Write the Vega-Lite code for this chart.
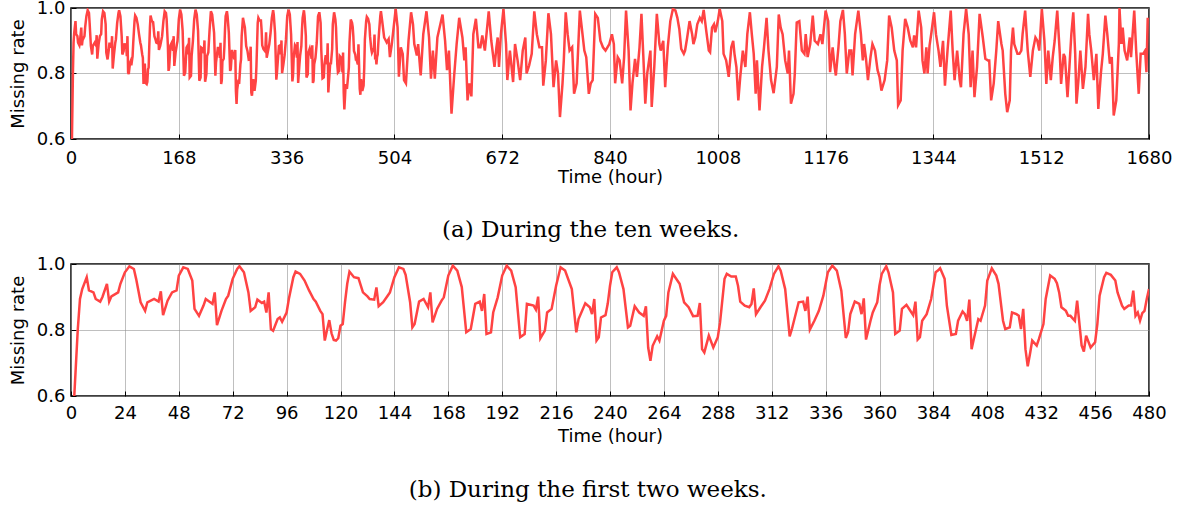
{
 "$schema": "https://vega.github.io/schema/vega-lite/v6.json",
 "padding": {"left": 8, "top": -2, "right": 5, "bottom": 5},
 "background": "white",
 "datasets": {"series": [
{"t":0,"v":0.40},{"t":1,"v":0.54},{"t":2,"v":0.67},{"t":3,"v":0.80},{"t":4,"v":0.894},{"t":5,"v":0.924},{"t":7,"v":0.96},{"t":8,"v":0.92},{"t":10,"v":0.914},{"t":11,"v":0.894},{"t":13,"v":0.886},{"t":14,"v":0.90},{"t":16,"v":0.94},{"t":17,"v":0.886},{"t":18,"v":0.902},{"t":21,"v":0.914},{"t":22,"v":0.94},{"t":24,"v":0.975},{"t":26,"v":0.993},{"t":28,"v":0.985},{"t":29,"v":0.955},{"t":31,"v":0.884},{"t":33,"v":0.858},{"t":34,"v":0.884},{"t":37,"v":0.894},{"t":39,"v":0.886},{"t":40,"v":0.917},{"t":41,"v":0.845},{"t":43,"v":0.889},{"t":45,"v":0.914},{"t":47,"v":0.92},{"t":48,"v":0.965},{"t":50,"v":0.99},{"t":52,"v":0.985},{"t":54,"v":0.95},{"t":55,"v":0.864},{"t":57,"v":0.843},{"t":59,"v":0.874},{"t":60,"v":0.894},{"t":62,"v":0.884},{"t":63,"v":0.879},{"t":64,"v":0.914},{"t":65,"v":0.815},{"t":67,"v":0.858},{"t":69,"v":0.894},{"t":70,"v":0.904},{"t":72,"v":0.955},{"t":74,"v":0.985},{"t":75,"v":0.993},{"t":77,"v":0.975},{"t":79,"v":0.914},{"t":80,"v":0.858},{"t":82,"v":0.869},{"t":83,"v":0.892},{"t":85,"v":0.882},{"t":86,"v":0.886},{"t":87,"v":0.853},{"t":88,"v":0.914},{"t":89,"v":0.803},{"t":90,"v":0.798},{"t":92,"v":0.833},{"t":93,"v":0.838},{"t":94,"v":0.825},{"t":96,"v":0.853},{"t":97,"v":0.894},{"t":99,"v":0.96},{"t":100,"v":0.977},{"t":102,"v":0.97},{"t":104,"v":0.95},{"t":106,"v":0.92},{"t":108,"v":0.894},{"t":109,"v":0.886},{"t":111,"v":0.858},{"t":112,"v":0.848},{"t":113,"v":0.768},{"t":114,"v":0.80},{"t":115,"v":0.83},{"t":116,"v":0.79},{"t":117,"v":0.77},{"t":118,"v":0.768},{"t":119,"v":0.775},{"t":120,"v":0.813},{"t":121,"v":0.818},{"t":122,"v":0.884},{"t":123,"v":0.94},{"t":124,"v":0.977},{"t":126,"v":0.96},{"t":128,"v":0.957},{"t":130,"v":0.914},{"t":132,"v":0.902},{"t":133,"v":0.894},{"t":135,"v":0.892},{"t":136,"v":0.929},{"t":137,"v":0.872},{"t":139,"v":0.884},{"t":141,"v":0.904},{"t":142,"v":0.914},{"t":144,"v":0.96},{"t":146,"v":0.99},{"t":148,"v":0.985},{"t":149,"v":0.967},{"t":151,"v":0.884},{"t":152,"v":0.808},{"t":153,"v":0.818},{"t":155,"v":0.886},{"t":157,"v":0.894},{"t":159,"v":0.869},{"t":160,"v":0.914},{"t":161,"v":0.823},{"t":163,"v":0.864},{"t":165,"v":0.889},{"t":166,"v":0.899},{"t":168,"v":0.965},{"t":170,"v":0.995},{"t":172,"v":0.98},{"t":174,"v":0.93},{"t":176,"v":0.793},{"t":178,"v":0.803},{"t":180,"v":0.879},{"t":182,"v":0.886},{"t":183,"v":0.858},{"t":184,"v":0.909},{"t":185,"v":0.788},{"t":187,"v":0.793},{"t":188,"v":0.853},{"t":190,"v":0.899},{"t":192,"v":0.965},{"t":194,"v":0.995},{"t":196,"v":0.98},{"t":198,"v":0.93},{"t":200,"v":0.778},{"t":202,"v":0.788},{"t":203,"v":0.879},{"t":206,"v":0.874},{"t":207,"v":0.862},{"t":208,"v":0.901},{"t":209,"v":0.775},{"t":211,"v":0.798},{"t":212,"v":0.853},{"t":214,"v":0.864},{"t":216,"v":0.934},{"t":218,"v":0.99},{"t":220,"v":0.98},{"t":223,"v":0.924},{"t":225,"v":0.793},{"t":226,"v":0.833},{"t":229,"v":0.881},{"t":231,"v":0.869},{"t":232,"v":0.848},{"t":233,"v":0.894},{"t":234,"v":0.768},{"t":235,"v":0.778},{"t":236,"v":0.838},{"t":238,"v":0.845},{"t":239,"v":0.88},{"t":240,"v":0.934},{"t":241,"v":0.975},{"t":243,"v":0.99},{"t":244,"v":0.975},{"t":246,"v":0.924},{"t":248,"v":0.808},{"t":249,"v":0.813},{"t":251,"v":0.872},{"t":253,"v":0.853},{"t":255,"v":0.843},{"t":256,"v":0.872},{"t":257,"v":0.747},{"t":258,"v":0.707},{"t":259,"v":0.752},{"t":261,"v":0.781},{"t":262,"v":0.768},{"t":264,"v":0.828},{"t":265,"v":0.843},{"t":266,"v":0.914},{"t":268,"v":0.97},{"t":270,"v":0.95},{"t":271,"v":0.94},{"t":273,"v":0.884},{"t":275,"v":0.869},{"t":277,"v":0.842},{"t":279,"v":0.843},{"t":280,"v":0.882},{"t":281,"v":0.742},{"t":282,"v":0.732},{"t":284,"v":0.783},{"t":286,"v":0.747},{"t":288,"v":0.778},{"t":289,"v":0.823},{"t":291,"v":0.955},{"t":292,"v":0.97},{"t":294,"v":0.962},{"t":296,"v":0.962},{"t":297,"v":0.934},{"t":298,"v":0.886},{"t":300,"v":0.874},{"t":302,"v":0.869},{"t":303,"v":0.879},{"t":304,"v":0.926},{"t":305,"v":0.848},{"t":307,"v":0.869},{"t":309,"v":0.889},{"t":311,"v":0.924},{"t":313,"v":0.97},{"t":315,"v":0.993},{"t":316,"v":0.98},{"t":318,"v":0.924},{"t":320,"v":0.781},{"t":321,"v":0.803},{"t":324,"v":0.884},{"t":326,"v":0.886},{"t":327,"v":0.858},{"t":328,"v":0.901},{"t":329,"v":0.801},{"t":331,"v":0.828},{"t":333,"v":0.858},{"t":335,"v":0.904},{"t":337,"v":0.975},{"t":339,"v":0.995},{"t":341,"v":0.98},{"t":343,"v":0.919},{"t":345,"v":0.776},{"t":346,"v":0.793},{"t":347,"v":0.848},{"t":349,"v":0.886},{"t":351,"v":0.879},{"t":352,"v":0.848},{"t":353,"v":0.896},{"t":354,"v":0.771},{"t":356,"v":0.828},{"t":357,"v":0.853},{"t":359,"v":0.884},{"t":360,"v":0.935},{"t":361,"v":0.97},{"t":363,"v":0.993},{"t":364,"v":0.975},{"t":366,"v":0.914},{"t":367,"v":0.788},{"t":369,"v":0.798},{"t":370,"v":0.864},{"t":372,"v":0.876},{"t":373,"v":0.866},{"t":375,"v":0.845},{"t":376,"v":0.886},{"t":377,"v":0.771},{"t":378,"v":0.778},{"t":379,"v":0.828},{"t":381,"v":0.848},{"t":383,"v":0.894},{"t":385,"v":0.975},{"t":386,"v":0.98},{"t":387,"v":0.987},{"t":389,"v":0.955},{"t":390,"v":0.874},{"t":392,"v":0.785},{"t":394,"v":0.788},{"t":395,"v":0.828},{"t":397,"v":0.856},{"t":398,"v":0.848},{"t":399,"v":0.828},{"t":400,"v":0.892},{"t":401,"v":0.742},{"t":402,"v":0.773},{"t":404,"v":0.833},{"t":405,"v":0.828},{"t":407,"v":0.874},{"t":408,"v":0.95},{"t":410,"v":0.987},{"t":412,"v":0.965},{"t":413,"v":0.94},{"t":415,"v":0.828},{"t":416,"v":0.803},{"t":418,"v":0.808},{"t":419,"v":0.853},{"t":421,"v":0.848},{"t":422,"v":0.843},{"t":423,"v":0.803},{"t":424,"v":0.864},{"t":425,"v":0.742},{"t":426,"v":0.69},{"t":427,"v":0.727},{"t":428,"v":0.768},{"t":430,"v":0.753},{"t":431,"v":0.773},{"t":433,"v":0.818},{"t":434,"v":0.894},{"t":436,"v":0.965},{"t":438,"v":0.955},{"t":439,"v":0.942},{"t":440,"v":0.914},{"t":441,"v":0.869},{"t":443,"v":0.858},{"t":444,"v":0.843},{"t":445,"v":0.843},{"t":447,"v":0.828},{"t":448,"v":0.889},{"t":450,"v":0.753},{"t":451,"v":0.735},{"t":452,"v":0.783},{"t":454,"v":0.747},{"t":456,"v":0.763},{"t":457,"v":0.818},{"t":458,"v":0.904},{"t":460,"v":0.96},{"t":461,"v":0.973},{"t":463,"v":0.967},{"t":465,"v":0.95},{"t":466,"v":0.914},{"t":468,"v":0.874},{"t":469,"v":0.864},{"t":471,"v":0.874},{"t":472,"v":0.874},{"t":473,"v":0.919},{"t":474,"v":0.843},{"t":475,"v":0.853},{"t":476,"v":0.828},{"t":477,"v":0.851},{"t":478,"v":0.858},{"t":479,"v":0.894},{"t":480,"v":0.924},
{"t":482,"v":0.975},{"t":483,"v":0.99},{"t":485,"v":0.96},{"t":488,"v":0.91},{"t":492,"v":0.895},{"t":495,"v":0.905},{"t":497,"v":0.85},{"t":500,"v":0.89},{"t":506,"v":0.997},{"t":509,"v":0.94},{"t":511,"v":0.79},{"t":514,"v":0.88},{"t":517,"v":0.86},{"t":519,"v":0.78},{"t":522,"v":0.77},{"t":526,"v":0.9},{"t":530,"v":0.987},{"t":533,"v":0.95},{"t":535,"v":0.89},{"t":539,"v":0.855},{"t":541,"v":0.89},{"t":545,"v":0.794},{"t":549,"v":0.92},{"t":554,"v":0.99},{"t":558,"v":0.91},{"t":561,"v":0.784},{"t":564,"v":0.87},{"t":567,"v":0.784},{"t":571,"v":0.91},{"t":579,"v":0.98},{"t":583,"v":0.9},{"t":586,"v":0.81},{"t":589,"v":0.87},{"t":593,"v":0.677},{"t":597,"v":0.79},{"t":601,"v":0.89},{"t":605,"v":0.97},{"t":610,"v":0.91},{"t":613,"v":0.84},{"t":615,"v":0.88},{"t":618,"v":0.718},{"t":621,"v":0.77},{"t":624,"v":0.73},{"t":627,"v":0.92},{"t":631,"v":0.967},{"t":635,"v":0.88},{"t":638,"v":0.88},{"t":641,"v":0.916},{"t":645,"v":0.87},{"t":651,"v":0.99},{"t":655,"v":0.9},{"t":660,"v":0.82},{"t":663,"v":0.88},{"t":665,"v":0.91},{"t":667,"v":0.82},{"t":670,"v":0.92},{"t":674,"v":0.997},{"t":678,"v":0.89},{"t":680,"v":0.78},{"t":684,"v":0.87},{"t":689,"v":0.774},{"t":692,"v":0.89},{"t":696,"v":0.84},{"t":700,"v":0.78},{"t":704,"v":0.87},{"t":708,"v":0.91},{"t":710,"v":0.8},{"t":714,"v":0.825},{"t":718,"v":0.86},{"t":722,"v":0.99},{"t":726,"v":0.92},{"t":730,"v":0.88},{"t":734,"v":0.88},{"t":736,"v":0.763},{"t":740,"v":0.84},{"t":744,"v":0.984},{"t":748,"v":0.92},{"t":752,"v":0.758},{"t":756,"v":0.84},{"t":759,"v":0.8},{"t":762,"v":0.667},{"t":766,"v":0.77},{"t":768,"v":0.84},{"t":771,"v":0.987},{"t":774,"v":0.92},{"t":777,"v":0.87},{"t":781,"v":0.88},{"t":784,"v":0.738},{"t":788,"v":0.77},{"t":793,"v":0.992},{"t":796,"v":0.94},{"t":800,"v":0.87},{"t":803,"v":0.85},{"t":807,"v":0.738},{"t":810,"v":0.77},{"t":813,"v":0.78},{"t":817,"v":0.982},{"t":821,"v":0.97},{"t":825,"v":0.9},{"t":829,"v":0.88},{"t":833,"v":0.87},{"t":836,"v":0.88},{"t":839,"v":0.89},{"t":843,"v":0.92},{"t":846,"v":0.89},{"t":848,"v":0.77},{"t":852,"v":0.85},{"t":855,"v":0.84},{"t":859,"v":0.77},{"t":862,"v":0.85},{"t":865,"v":0.992},{"t":869,"v":0.87},{"t":872,"v":0.687},{"t":875,"v":0.77},{"t":879,"v":0.845},{"t":882,"v":0.79},{"t":886,"v":0.88},{"t":889,"v":0.982},{"t":892,"v":0.85},{"t":895,"v":0.708},{"t":898,"v":0.8},{"t":903,"v":0.87},{"t":905,"v":0.698},{"t":909,"v":0.82},{"t":913,"v":0.982},{"t":917,"v":0.89},{"t":919,"v":0.87},{"t":923,"v":0.9},{"t":926,"v":0.758},{"t":930,"v":0.88},{"t":934,"v":0.96},{"t":938,"v":0.997},{"t":942,"v":0.992},{"t":945,"v":0.97},{"t":948,"v":0.936},{"t":951,"v":0.875},{"t":955,"v":0.86},{"t":957,"v":0.87},{"t":960,"v":0.906},{"t":964,"v":0.96},{"t":968,"v":0.92},{"t":970,"v":0.89},{"t":973,"v":0.91},{"t":976,"v":0.95},{"t":980,"v":0.97},{"t":983,"v":0.96},{"t":986,"v":0.994},{"t":990,"v":0.93},{"t":994,"v":0.87},{"t":996,"v":0.865},{"t":999,"v":0.94},{"t":1002,"v":0.95},{"t":1004,"v":0.926},{"t":1008,"v":0.96},{"t":1011,"v":0.997},{"t":1015,"v":0.96},{"t":1017,"v":0.86},{"t":1021,"v":0.84},{"t":1025,"v":0.79},{"t":1029,"v":0.88},{"t":1032,"v":0.9},{"t":1034,"v":0.86},{"t":1037,"v":0.82},{"t":1040,"v":0.718},{"t":1043,"v":0.79},{"t":1047,"v":0.87},{"t":1051,"v":0.82},{"t":1054,"v":0.92},{"t":1058,"v":0.987},{"t":1061,"v":0.92},{"t":1064,"v":0.86},{"t":1067,"v":0.738},{"t":1069,"v":0.84},{"t":1073,"v":0.687},{"t":1077,"v":0.82},{"t":1080,"v":0.88},{"t":1084,"v":0.97},{"t":1087,"v":0.87},{"t":1091,"v":0.78},{"t":1095,"v":0.74},{"t":1100,"v":0.82},{"t":1103,"v":0.98},{"t":1106,"v":0.94},{"t":1109,"v":0.92},{"t":1113,"v":0.84},{"t":1117,"v":0.8},{"t":1119,"v":0.87},{"t":1122,"v":0.708},{"t":1126,"v":0.738},{"t":1128,"v":0.8},{"t":1131,"v":0.956},{"t":1135,"v":0.96},{"t":1139,"v":0.87},{"t":1143,"v":0.86},{"t":1145,"v":0.92},{"t":1148,"v":0.85},{"t":1152,"v":0.89},{"t":1156,"v":0.977},{"t":1159,"v":0.9},{"t":1164,"v":0.89},{"t":1168,"v":0.92},{"t":1171,"v":0.89},{"t":1176,"v":0.992},{"t":1180,"v":0.96},{"t":1183,"v":0.804},{"t":1187,"v":0.88},{"t":1190,"v":0.82},{"t":1192,"v":0.794},{"t":1196,"v":0.88},{"t":1199,"v":0.96},{"t":1203,"v":0.994},{"t":1206,"v":0.92},{"t":1209,"v":0.8},{"t":1213,"v":0.87},{"t":1216,"v":0.87},{"t":1218,"v":0.794},{"t":1222,"v":0.92},{"t":1227,"v":0.992},{"t":1231,"v":0.92},{"t":1234,"v":0.84},{"t":1236,"v":0.89},{"t":1239,"v":0.845},{"t":1242,"v":0.78},{"t":1246,"v":0.85},{"t":1249,"v":0.89},{"t":1253,"v":0.87},{"t":1257,"v":0.81},{"t":1260,"v":0.79},{"t":1263,"v":0.748},{"t":1268,"v":0.78},{"t":1272,"v":0.84},{"t":1275,"v":0.977},{"t":1279,"v":0.94},{"t":1283,"v":0.87},{"t":1287,"v":0.84},{"t":1289,"v":0.703},{"t":1293,"v":0.718},{"t":1296,"v":0.87},{"t":1300,"v":0.967},{"t":1304,"v":0.94},{"t":1308,"v":0.9},{"t":1312,"v":0.88},{"t":1314,"v":0.916},{"t":1317,"v":0.88},{"t":1321,"v":0.992},{"t":1325,"v":0.94},{"t":1327,"v":0.84},{"t":1330,"v":0.8},{"t":1333,"v":0.88},{"t":1335,"v":0.8},{"t":1338,"v":0.885},{"t":1341,"v":0.926},{"t":1345,"v":0.987},{"t":1348,"v":0.92},{"t":1352,"v":0.87},{"t":1355,"v":0.82},{"t":1359,"v":0.9},{"t":1362,"v":0.763},{"t":1366,"v":0.87},{"t":1371,"v":0.992},{"t":1374,"v":0.87},{"t":1377,"v":0.78},{"t":1381,"v":0.87},{"t":1385,"v":0.78},{"t":1387,"v":0.758},{"t":1391,"v":0.92},{"t":1395,"v":0.997},{"t":1399,"v":0.92},{"t":1402,"v":0.758},{"t":1405,"v":0.87},{"t":1408,"v":0.728},{"t":1412,"v":0.82},{"t":1416,"v":0.982},{"t":1421,"v":0.91},{"t":1425,"v":0.845},{"t":1429,"v":0.84},{"t":1431,"v":0.84},{"t":1434,"v":0.718},{"t":1438,"v":0.77},{"t":1442,"v":0.87},{"t":1445,"v":0.96},{"t":1450,"v":0.89},{"t":1452,"v":0.87},{"t":1456,"v":0.738},{"t":1459,"v":0.682},{"t":1463,"v":0.718},{"t":1465,"v":0.87},{"t":1468,"v":0.94},{"t":1470,"v":0.89},{"t":1475,"v":0.86},{"t":1478,"v":0.86},{"t":1481,"v":0.87},{"t":1483,"v":0.92},{"t":1487,"v":0.992},{"t":1491,"v":0.87},{"t":1495,"v":0.79},{"t":1499,"v":0.87},{"t":1503,"v":0.91},{"t":1506,"v":0.9},{"t":1509,"v":0.87},{"t":1513,"v":0.997},{"t":1517,"v":0.9},{"t":1520,"v":0.768},{"t":1523,"v":0.87},{"t":1527,"v":0.78},{"t":1530,"v":0.85},{"t":1533,"v":0.9},{"t":1537,"v":0.992},{"t":1541,"v":0.86},{"t":1543,"v":0.768},{"t":1547,"v":0.86},{"t":1549,"v":0.85},{"t":1553,"v":0.728},{"t":1556,"v":0.82},{"t":1559,"v":0.92},{"t":1562,"v":0.987},{"t":1565,"v":0.86},{"t":1567,"v":0.708},{"t":1570,"v":0.78},{"t":1573,"v":0.87},{"t":1577,"v":0.753},{"t":1581,"v":0.82},{"t":1585,"v":0.982},{"t":1587,"v":0.92},{"t":1590,"v":0.87},{"t":1594,"v":0.78},{"t":1598,"v":0.86},{"t":1601,"v":0.692},{"t":1605,"v":0.8},{"t":1608,"v":0.86},{"t":1612,"v":0.977},{"t":1615,"v":0.92},{"t":1619,"v":0.83},{"t":1622,"v":0.85},{"t":1625,"v":0.672},{"t":1629,"v":0.718},{"t":1633,"v":0.89},{"t":1634,"v":1.0},{"t":1637,"v":0.89},{"t":1639,"v":0.94},{"t":1642,"v":0.87},{"t":1646,"v":0.84},{"t":1650,"v":0.91},{"t":1652,"v":0.85},{"t":1657,"v":0.992},{"t":1660,"v":0.87},{"t":1664,"v":0.738},{"t":1667,"v":0.86},{"t":1671,"v":0.86},{"t":1674,"v":0.87},{"t":1676,"v":0.804},{"t":1678,"v":0.97}
 ]},
 "config": {
  "view": {"stroke": "black", "strokeWidth": 1.5},
  "axis": {
   "labelFont": "DejaVu Sans", "titleFont": "DejaVu Sans",
   "labelFontSize": 18, "titleFontSize": 18, "titleFontWeight": "normal",
   "labelColor": "black", "titleColor": "black",
   "domain": false, "tickColor": "black", "tickSize": -5, "tickWidth": 1,
   "gridColor": "#8c8c8c", "gridWidth": 0.7, "gridOpacity": 0.8,
   "labelOverlap": false, "labelFlush": false
  },
  "title": {"font": "DejaVu Serif", "fontSize": 23, "fontWeight": "normal", "color": "black", "orient": "bottom", "anchor": "middle", "frame": "bounds"}
 },
 "spacing": 11,
 "vconcat": [
  {
   "width": 1078, "height": 131,
   "data": {"name": "series"},
   "title": {"text": "(a) During the ten weeks.", "offset": 33},
   "mark": {"type": "line", "clip": true, "color": "#ff4343", "strokeWidth": 2.5},
   "encoding": {
    "x": {"field": "t", "type": "quantitative", "scale": {"domain": [0, 1680], "nice": false, "zero": false},
          "axis": {"title": "Time (hour)", "format": "d", "values": [0,168,336,504,672,840,1008,1176,1344,1512,1680], "labelPadding": 15, "titlePadding": 1}},
    "y": {"field": "v", "type": "quantitative", "scale": {"domain": [0.6, 1.0], "nice": false, "zero": false},
          "axis": {"title": "Missing rate", "values": [0.6, 0.8, 1.0], "format": ".1f", "labelPadding": 11, "titlePadding": 9}}
   }
  },
  {
   "width": 1078, "height": 132,
   "data": {"name": "series"},
   "transform": [{"filter": "datum.t <= 480"}],
   "title": {"text": "(b) During the first two weeks.", "offset": 34},
   "mark": {"type": "line", "clip": true, "color": "#ff4343", "strokeWidth": 2.5},
   "encoding": {
    "x": {"field": "t", "type": "quantitative", "scale": {"domain": [0, 480], "nice": false, "zero": false},
          "axis": {"title": "Time (hour)", "format": "d", "values": [0,24,48,72,96,120,144,168,192,216,240,264,288,312,336,360,384,408,432,456,480], "labelPadding": 13, "titlePadding": 5}},
    "y": {"field": "v", "type": "quantitative", "scale": {"domain": [0.6, 1.0], "nice": false, "zero": false},
          "axis": {"title": "Missing rate", "values": [0.6, 0.8, 1.0], "format": ".1f", "labelPadding": 11, "titlePadding": 9}}
   }
  }
 ]
}
